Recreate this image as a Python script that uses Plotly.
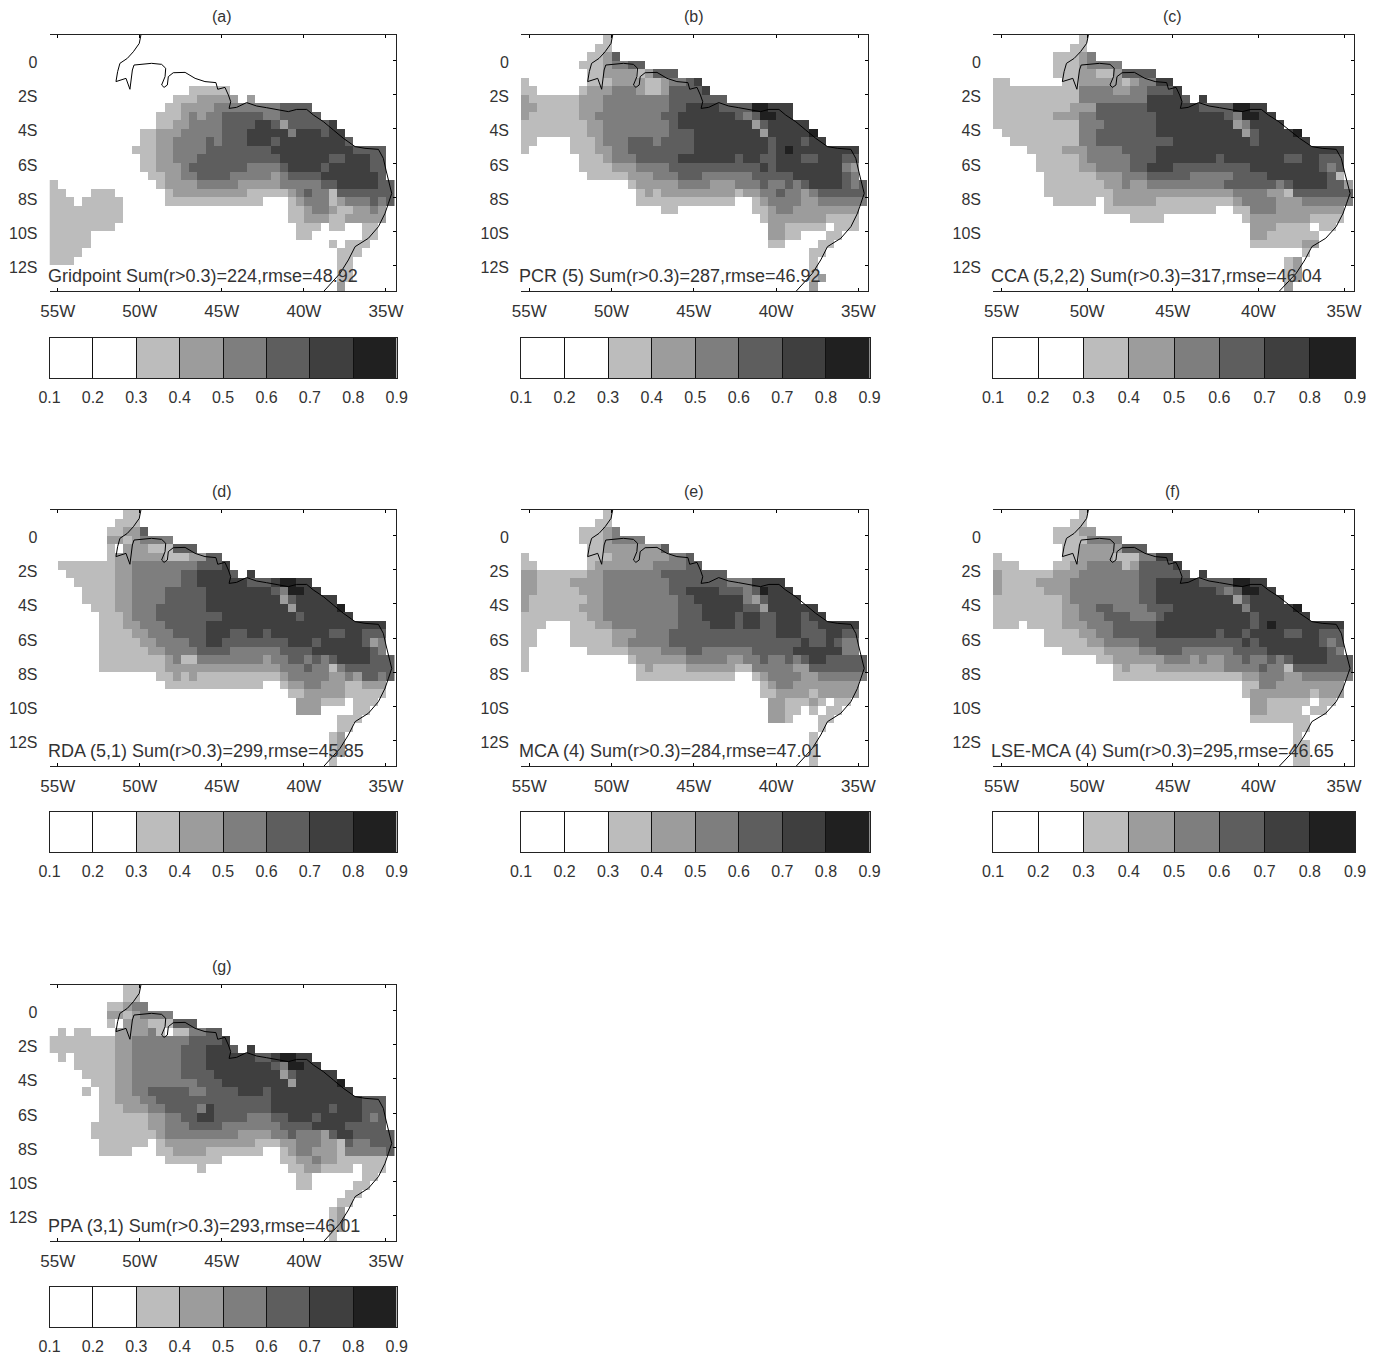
import plotly.graph_objects as go

# Each row: 42 cells west to east, one digit = r*10 bin (3 means 0.3-0.4), 0 = below 0.3. North to south, 30 rows.
PANEL_A = ["", "", "", "", "", "",
"0000000000 0000000333 33",
"0000000000 0000033344 4440400000",
"0000000000 0000334444 5555555566 66",
"0000000000 0003334545 5666665566 666",
"0000000000 0003344555 5666677646 66667",
"0000000000 0334445555 5666777775 777677",
"0000000000 0334455556 5666777677 7777776",
"0000000000 3334455556 6666666777 7777777666 60",
"0000000000 0334455566 6666666677 7777667776 60",
"0000000000 0334445666 6666555567 7776777776 60",
"0000000000 0033445566 6655555456 6667777777 60",
"3000000000 0003444455 5554444455 5556677777 66",
"3300033300 0000344444 4444333334 5655366666 66",
"3330333330 0000333333 3333330003 4555345556 56",
"3333333330 0000000000 0000000003 3455433445 40",
"3333333330 0000000000 0000000003 3444334444 40",
"3333333300 0000000000 0000000000 3330330033",
"3333300000 0000000000 0000000000 3300000033",
"3333300000 0000000000 0000000000 0000303330",
"3333000000 0000000000 0000000000 0000033300",
"3330000000 0000000000 0000000000 0000033000",
"0000000000 0000000000 0000000000 0000033000",
"0000000000 0000000000 0000000000 0000033000",
"0000000000 0000000000 0000000000 0000040000"]

PANEL_B = [
"0000000000 3",
"0000000003 3",
"0000000033 46",
"0000000333 45566",
"0000000033 444434666",
"3000000033 3444433455 67",
"3300000344 4555433466 667",
"4333333444 5555555566 66666",
"4433333444 5555555566 7777666688 777",
"4333333445 5555555667 7777776568 877",
"3333333344 5555555567 7777777746 77777",
"3333333344 5555555566 6777777774 777778",
"3300003334 5556665666 6777777777 6777677",
"3000003334 4556666666 6777777777 6787777777 7",
"0000000333 4555666667 7777776776 6777667776 6",
"0000000333 3444555566 6666666667 6777777775 4",
"0000000033 3334445556 6655555566 6667777776 5",
"0000000000 0003444445 5554445556 5565677776 56",
"0000000000 0000343444 4444443445 5655456666 66",
"0000000000 0000333333 3333330034 5555445555 55",
"0000000000 0000000330 0000000033 4554444444 4",
"0000000000 0000000000 0000000003 4444444333 3",
"0000000000 0000000000 0000000000 4433333033 3",
"0000000000 0000000000 0000000000 4433000330",
"0000000000 0000000000 0000000000 33000033",
"0000000000 0000000000 0000000000 00000330",
"0000000000 0000000000 0000000000 0000030",
"0000000000 0000000000 0000000000 0000030",
"0000000000 0000000000 0000000000 0000034",
"0000000000 0000000000 0000000000 0000040"]

PANEL_C = [
"0000000000 3",
"0000000003 3",
"0000000333 45",
"0000000333 45555",
"0000000333 443346666",
"3300000033 4444434557 7",
"3333333333 5555445566 67",
"3333333333 5555555577 77607",
"3333333334 4466666677 7777666688 77",
"3333333444 5566666667 7777777658 877",
"3333333333 5556666667 7777777745 7777",
"0333333333 5566666667 7777777774 677778",
"0033333333 5566666666 6777777777 6777777",
"0000333344 4555566667 7777777777 7777777777 7",
"0000033333 4555556667 7777776777 7777667766 6",
"0000033333 4455556677 7666666666 7777777765 6",
"0000003333 3344455566 6665555566 6677777776 3",
"0000003333 3334454455 5555555666 6665677776 64",
"0000003333 3333444444 4444444455 5544366666 66",
"0000000333 3303444443 3333333345 5554445555 55",
"0000000000 0003333333 3333330033 5554444444 4",
"0000000000 0000003333 0000000003 4444444333 3",
"0000000000 0000000000 0000000000 4443333033",
"0000000000 0000000000 0000000000 4433333300",
"0000000000 0000000000 0000000000 3333334400",
"0000000000 0000000000 0000000000 0000003",
"0000000000 0000000000 0000000000 000034",
"0000000000 0000000000 0000000000 000034",
"0000000000 0000000000 0000000000 000034",
"0000000000 0000000000 0000000000 00004"]

PANEL_D = [
"0000000003 3",
"0000000033 3",
"0000000334 46",
"0000000443 45555",
"0000000304 443336660",
"0000000344 4444333446 6",
"0333333344 5555555566 67",
"0033333344 5555556677 77607",
"0003333344 5555556677 7777666788 77",
"0000333344 5555666667 7777777658 877",
"0000333344 5555666667 7777777746 77777",
"0000033344 5556666667 7777777774 777778",
"0000003334 5556666666 6777777777 6777777",
"0000003334 4555666667 7777777777 7777777777 7",
"0000003333 4455566667 7766776777 7777667766 6",
"0000003333 3445555667 7666666667 7767777764 5",
"0000003333 3344555566 6655555566 6677777776 5",
"0000003333 3333453355 5555554556 6565677776 66",
"0000003333 3333444444 4444444455 5655356666 66",
"0000000000 0003343433 3333333345 5555445466 56",
"0000000000 0000333333 3333330034 4554443344 4",
"0000000000 0000000000 0000000003 3444443333 3",
"0000000000 0000000000 0000000000 4443330333",
"0000000000 0000000000 0000000000 444000033",
"0000000000 0000000000 0000000000 0000033300",
"0000000000 0000000000 0000000000 0000033",
"0000000000 0000000000 0000000000 000034",
"0000000000 0000000000 0000000000 000034",
"0000000000 0000000000 0000000000 000034",
"0000000000 0000000000 0000000000 00003"]

PANEL_E = [
"0000000000 3",
"0000000003 3",
"0000000333 45",
"0000000333 45555",
"0000000033 44444446",
"3000000033 3444444455 6",
"3300000034 4444445555 66",
"4433333344 5555555666 66666",
"4433334444 5555555566 6666655577 77",
"4433333444 5555555566 7777666568 777",
"4333333344 5555555556 6777777546 7777",
"4333333444 5555555556 6677777664 777777",
"3333333344 5555555556 6677776776 6777677",
"3330003334 4555555556 6667776776 6777667777 7",
"3300003333 3444555566 6666666666 6777666776 6",
"3300003333 3445555566 6666666666 6666766765 5",
"3000000033 3334444555 6655555566 6667777775 5",
"3000000000 0003444444 5555544556 5565677666 66",
"3000000000 0000343333 4444443355 5554466666 66",
"0000000000 0000333333 3333330034 5555445555 55",
"0000000000 0000000000 0000000003 4554444444 4",
"0000000000 0000000000 0000000003 3444434444 4",
"0000000000 0000000000 0000000000 4433343033",
"0000000000 0000000000 0000000000 4433030330",
"0000000000 0000000000 0000000000 4430003300",
"0000000000 0000000000 0000000000 0000003",
"0000000000 0000000000 0000000000 0000030",
"0000000000 0000000000 0000000000 0000030",
"0000000000 0000000000 0000000000 0000030",
"0000000000 0000000000 0000000000 0000030"]

PANEL_F = [
"0000000000 3",
"0000000003 3",
"0000000333 44",
"0000000333 35555",
"0000000033 444446660",
"3000000033 4444333557 7",
"3330000334 4555534666 67",
"4333333444 5555555666 66607",
"4333344445 5555555667 7777666688 77",
"4333334445 5555555667 7777776568 877",
"3333333345 5555555667 7777777746 7777",
"3333333344 5566555566 6777777775 777778",
"3333333344 5556665556 7777777777 6777777",
"3330333344 4555666667 7777777777 6787777777 7",
"0000003333 4455666667 7777776776 7777667766 6",
"0000003333 3445555666 6666666667 6777777765 6",
"0000000033 3334444556 6655555566 6677777776 5",
"0000000000 0033444444 5554544556 5565677776 66",
"0000000000 0000343334 4444444555 5655366666 66",
"0000000000 0000333333 3333333334 4555445555 55",
"0000000000 0000000000 0000000003 3554444444 4",
"0000000000 0000000000 0000000003 4444444344 4",
"0000000000 0000000000 0000000000 4433333033",
"0000000000 0000000000 0000000000 4433330330",
"0000000000 0000000000 0000000000 3333333",
"0000000000 0000000000 0000000000 0000033",
"0000000000 0000000000 0000000000 0000030",
"0000000000 0000000000 0000000000 0000033",
"0000000000 0000000000 0000000000 0000033",
"0000000000 0000000000 0000000000 0000033"]

PANEL_G = [
"0000000003 3",
"0000000003 3",
"0000000334 55",
"0000000443 45555",
"0000000304 443336660",
"0303300044 4453033556 6",
"3333333344 5555555666 67",
"3333333344 5555556667 77607",
"0303333344 5555556667 7777766788 77",
"0003333344 5555556667 7777777658 877",
"0000333344 5555556666 7777777746 77777",
"0000033344 5555555566 6777777774 777778",
"0000303344 5566666556 6667776777 7777777",
"0000003344 4556666666 6666666777 7777777766 6",
"0000003334 4455666657 6666666777 7777677766 6",
"0000003333 3344556677 6666555667 7767777765 6",
"0000033333 3344555666 6555555566 6677776666 6",
"0000033333 3334555555 5554444556 5554677666 66",
"0000003333 3303444444 4444433344 5554436556 66",
"0000003333 0003344443 3333330034 5544435555 56",
"0000000000 0000333333 3000000033 4454433333 3",
"0000000000 0000000030 0000000003 3443333033 3",
"0000000000 0000000000 0000000000 3300000033",
"0000000000 0000000000 0000000000 3300000330",
"0000000000 0000000000 0000000000 0000003300",
"0000000000 0000000000 0000000000 0000033",
"0000000000 0000000000 0000000000 000034",
"0000000000 0000000000 0000000000 000034",
"0000000000 0000000000 0000000000 000034",
"0000000000 0000000000 0000000000 00003"]

COAST_LON = [-49.93,-50.03,-50.39,-50.76,-51.21,-51.35,-51.45,-51.10,-50.84,-50.60,-50.45,-50.35,-49.78,-49.28,-48.67,-48.42,-48.46,-48.67,-48.52,-48.32,-48.26,-47.96,-47.24,-46.63,-46.03,-45.36,-45.25,-44.81,-44.60,-44.46,-44.56,-44.10,-43.49,-42.88,-42.27,-41.56,-40.95,-40.44,-39.83,-39.42,-38.81,-38.20,-37.60,-36.88,-36.28,-35.46,-35.16,-35.00,-34.79,-34.65,-34.85,-35.06,-35.46,-36.07,-36.88,-37.29,-37.80,-38.41,-38.81]
COAST_LAT = [1.50,1.01,0.52,0.13,-0.16,-0.65,-1.23,-1.14,-1.04,-1.68,-0.55,-0.26,-0.22,-0.16,-0.22,-0.45,-0.94,-1.43,-1.57,-1.43,-0.94,-0.71,-0.69,-1.04,-1.23,-1.29,-1.68,-1.57,-2.02,-2.41,-2.80,-2.74,-2.46,-2.66,-2.76,-2.89,-2.99,-2.86,-2.86,-3.19,-3.58,-4.07,-4.55,-5.04,-5.14,-5.20,-5.73,-6.41,-7.19,-7.78,-8.36,-8.95,-9.73,-10.41,-10.90,-11.68,-12.47,-13.15,-13.54]

LON_TICKS = [-55, -50, -45, -40, -35]
LON_LABELS = ["55W", "50W", "45W", "40W", "35W"]
LAT_TICKS = [0, -2, -4, -6, -8, -10, -12]
LAT_LABELS = ["0", "2S", "4S", "6S", "8S", "10S", "12S"]
BAR_TICKS = [0.1, 0.2, 0.3, 0.4, 0.5, 0.6, 0.7, 0.8, 0.9]
BAR_LABELS = ["0.1", "0.2", "0.3", "0.4", "0.5", "0.6", "0.7", "0.8", "0.9"]
BAR_LEVELS = [0.15, 0.25, 0.35, 0.45, 0.55, 0.65, 0.75, 0.85]
BAR_COLORS = ["#ffffff", "#ffffff", "#bcbcbc", "#9c9c9c", "#7e7e7e", "#5e5e5e", "#3f3f3f", "#202020"]

TITLES = ["(a)", "(b)", "(c)", "(d)", "(e)", "(f)", "(g)"]
LABELS = ["Gridpoint Sum(r>0.3)=224,rmse=48.92", "PCR (5) Sum(r>0.3)=287,rmse=46.92",
          "CCA (5,2,2) Sum(r>0.3)=317,rmse=46.04", "RDA (5,1) Sum(r>0.3)=299,rmse=45.85",
          "MCA (4) Sum(r>0.3)=284,rmse=47.01", "LSE-MCA (4) Sum(r>0.3)=295,rmse=46.65",
          "PPA (3,1) Sum(r>0.3)=293,rmse=46.01"]
PANELS = [PANEL_A, PANEL_B, PANEL_C, PANEL_D, PANEL_E, PANEL_F, PANEL_G]

W, H = 1383, 1358
COLS = [(49.5, 395.5, 49.5, 396.7), (521, 868, 521, 869.5), (993, 1354, 993, 1355)]
ROWS = [(35, 291, 338, 378, 17), (510, 766, 812, 852, 491), (985, 1241, 1287, 1327, 966)]
PLACE = [(0, 0), (1, 0), (2, 0), (0, 1), (1, 1), (2, 1), (0, 2)]

LONS = [-55.25 + 0.5 * j for j in range(42)]
LATS = [1.25 - 0.5 * i for i in range(30)]
TXT = "#333333"
FONT = "Liberation Sans"
SCALE = []
for k, c in enumerate(BAR_COLORS):
    SCALE += [[k / 8, c], [(k + 1) / 8, c]]


def decode(rows):
    out = []
    for r in rows:
        s = r.replace(" ", "").ljust(42, "0")[:42]
        out.append([None if ch == "0" else (int(ch) + 0.5) / 10 for ch in s])
    return out


fig = go.Figure()
layout = {}
ann = []
for n, (panel, (cx, ry)) in enumerate(zip(PANELS, PLACE)):
    x0, x1, bx0, bx1 = COLS[cx]
    top, bot, btop, bbot, ty = ROWS[ry]
    xa, ya, yr = n * 3 + 1, n * 3 + 1, n * 3 + 2
    xb, yb = n * 3 + 2, n * 3 + 3
    name = lambda p, i: p + ("" if i == 1 else str(i))
    fig.add_trace(go.Heatmap(x=LONS, y=LATS, z=decode(panel), zmin=0.1, zmax=0.9, colorscale=SCALE,
                             showscale=False, hoverongaps=False,
                             xaxis=name("x", xa), yaxis=name("y", ya)))
    fig.add_trace(go.Scatter(x=COAST_LON, y=COAST_LAT, mode="lines", line=dict(color="#000000", width=1),
                             showlegend=False, xaxis=name("x", xa), yaxis=name("y", yr)))
    fig.add_trace(go.Heatmap(x=BAR_LEVELS, y=[0], z=[BAR_LEVELS], zmin=0.1, zmax=0.9, colorscale=SCALE,
                             showscale=False, xaxis=name("x", xb), yaxis=name("y", yb)))
    layout[name("xaxis", xa)] = dict(domain=[x0 / W, x1 / W], range=[-55.5, -34.42], anchor=name("y", ya),
                                     tickvals=LON_TICKS, ticktext=LON_LABELS, ticks="inside", ticklen=3,
                                     tickcolor="#000", showline=True, linecolor="#222", linewidth=1,
                                     mirror="ticks", showgrid=False, zeroline=False, ticklabelstandoff=5,
                                     tickfont=dict(family=FONT, size=17, color=TXT))
    layout[name("yaxis", ya)] = dict(domain=[1 - bot / H, 1 - top / H], range=[-13.5, 1.5], anchor=name("x", xa),
                                     tickvals=LAT_TICKS, ticktext=LAT_LABELS, ticks="", showline=False,
                                     showgrid=False, zeroline=False, ticklabelstandoff=11, ticklabelshift=2,
                                     tickfont=dict(family=FONT, size=16, color=TXT))
    layout[name("yaxis", yr)] = dict(domain=[1 - bot / H, 1 - top / H], range=[-13.5, 1.5], anchor=name("x", xa),
                                     overlaying=name("y", ya), side="right", tickvals=LAT_TICKS, showticklabels=False,
                                     ticks="inside", ticklen=3, tickcolor="#000", showline=True, linecolor="#222",
                                     linewidth=1, showgrid=False, zeroline=False)
    layout[name("xaxis", xb)] = dict(domain=[bx0 / W, bx1 / W], range=[0.1, 0.9], anchor=name("y", yb),
                                     tickvals=BAR_TICKS, ticktext=BAR_LABELS, ticks="inside", ticklen=40,
                                     tickcolor="#111", tickwidth=1, showline=True, linecolor="#222", linewidth=1,
                                     mirror=True, showgrid=False, zeroline=False, ticklabelstandoff=5,
                                     tickfont=dict(family=FONT, size=16, color=TXT))
    layout[name("yaxis", yb)] = dict(domain=[1 - bbot / H, 1 - btop / H], range=[-0.5, 0.5], anchor=name("x", xb),
                                     showticklabels=False, ticks="", showline=True, linecolor="#222", linewidth=1,
                                     mirror=True, showgrid=False, zeroline=False)
    ann.append(dict(text=TITLES[n], xref="paper", yref="paper", x=(x0 + x1 - 2) / 2 / W, y=1 - ty / H, xanchor="center",
                    yanchor="middle", showarrow=False, font=dict(family=FONT, size=16, color=TXT)))
    ann.append(dict(text=LABELS[n], xref="paper", yref="paper", x=(x0 - 4) / W, y=1 - (top + 241) / H, xanchor="left",
                    yanchor="middle", showarrow=False, font=dict(family=FONT, size=18, color=TXT)))

fig.update_layout(width=W, height=H, margin=dict(l=0, r=0, t=0, b=0, autoexpand=False), paper_bgcolor="white",
                  plot_bgcolor="white", showlegend=False, annotations=ann, **layout)
fig.write_html("out.html", config={"displayModeBar": False},
               post_script="document.body.style.margin='0';")
